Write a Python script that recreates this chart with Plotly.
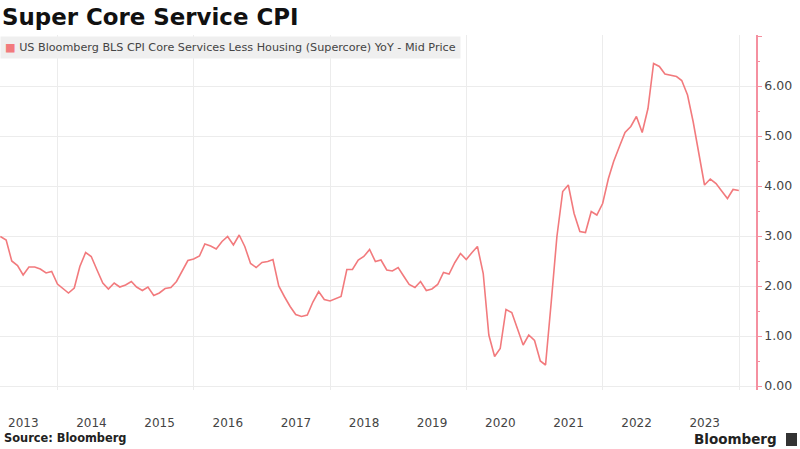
import pandas as pd
import plotly.graph_objects as go

# Monthly YoY values (%), Feb 2013 .. Dec 2023
values_2013 = [2.99, 2.92, 2.50, 2.41, 2.22, 2.38, 2.38, 2.34, 2.26, 2.29, 2.04]  # Feb-Dec
values_2014 = [1.94, 1.86, 1.96, 2.39, 2.67, 2.59, 2.32, 2.06, 1.94, 2.06, 1.98, 2.02]
values_2015 = [2.09, 1.98, 1.91, 1.98, 1.81, 1.86, 1.95, 1.97, 2.09, 2.29, 2.51, 2.54]
values_2016 = [2.60, 2.84, 2.80, 2.74, 2.89, 2.99, 2.82, 3.02, 2.79, 2.45, 2.37, 2.47]
values_2017 = [2.49, 2.53, 2.00, 1.79, 1.59, 1.43, 1.39, 1.42, 1.68, 1.89, 1.73, 1.70]
values_2018 = [1.75, 1.79, 2.33, 2.33, 2.52, 2.59, 2.73, 2.49, 2.52, 2.32, 2.30, 2.37]
values_2019 = [2.19, 2.03, 1.97, 2.09, 1.91, 1.94, 2.03, 2.27, 2.24, 2.47, 2.65, 2.53]
values_2020 = [2.67, 2.79, 2.25, 1.02, 0.59, 0.75, 1.53, 1.47, 1.15, 0.82, 1.02, 0.91]
values_2021 = [0.50, 0.42, 1.70, 2.99, 3.89, 4.02, 3.45, 3.09, 3.07, 3.49, 3.42, 3.65]
values_2022 = [4.15, 4.49, 4.79, 5.07, 5.19, 5.39, 5.07, 5.55, 6.45, 6.39, 6.24, 6.22]
values_2023 = [6.19, 6.11, 5.82, 5.29, 4.62, 4.02, 4.14, 4.05, 3.90, 3.75, 3.93, 3.91]

values = (values_2013 + values_2014 + values_2015 + values_2016 + values_2017 + values_2018
          + values_2019 + values_2020 + values_2021 + values_2022 + values_2023)
dates = pd.date_range("2013-02-28", periods=len(values), freq="ME")

years = list(range(2013, 2024))
tick_labels = [str(y) for y in years]
tick_positions = [f"{y}-07-01" for y in years]

y_ticks = [0, 1, 2, 3, 4, 5, 6, 7]
y_labels = ["0.00", "1.00", "2.00", "3.00", "4.00", "5.00", "6.00", ""]

series_name = "US Bloomberg BLS CPI Core Services Less Housing (Supercore) YoY - Mid Price"

LINE = "#f27a7d"
AXIS = "#f590a0"
GRID = "#ececec"
FONT = "DejaVu Sans"

fig = go.Figure()
fig.add_trace(go.Scatter(
    x=dates, y=values, mode="lines",
    line=dict(color=LINE, width=1.6),
    name=series_name, showlegend=False, hoverinfo="skip",
))

fig.update_layout(
    width=800, height=449,
    margin=dict(l=0, r=44, t=35, b=59),
    paper_bgcolor="white", plot_bgcolor="white",
    font=dict(family=FONT, color="#444"),
    title=dict(
        text="<b>Super Core Service CPI</b>",
        x=2 / 800, xanchor="left", xref="container",
        y=1 - 17 / 449, yanchor="middle", yref="container",
        font=dict(family=FONT, size=22.9, color="#111"),
    ),
    xaxis=dict(
        type="date",
        range=["2013-02-26", "2024-04-01"],
        tickvals=tick_positions, ticktext=tick_labels,
        showgrid=False, zeroline=False, showline=False, ticks="",
        tickfont=dict(family=FONT, size=12, color="#444"),
        ticklabelstandoff=24,
        minor=dict(tick0="2014-01-01", dtick="M24", showgrid=True,
                   gridcolor=GRID, gridwidth=1, ticks=""),
    ),
    yaxis=dict(
        side="right", range=[-0.08, 7.02],
        tickvals=y_ticks, ticktext=y_labels,
        showgrid=True, gridcolor=GRID, gridwidth=1,
        zeroline=False,
        showline=True, linecolor=AXIS, linewidth=1.5,
        ticks="outside", ticklen=4, tickcolor=AXIS, tickwidth=1,
        tickfont=dict(family=FONT, size=12.5, color="#444"),
        minor=dict(dtick=0.5, tick0=0, ticks="outside", ticklen=2,
                   tickcolor=AXIS, showgrid=False),
    ),
    annotations=[
        dict(
            text=f"<span style='color:{LINE}'>■</span> {series_name}",
            xref="paper", yref="paper", x=0.0, y=(390 - 48) / 355,
            xanchor="left", yanchor="middle", showarrow=False,
            bgcolor="#efefef", borderpad=4,
            font=dict(family=FONT, size=11.2, color="#444"),
        ),
        dict(
            text="<b>Source: Bloomberg</b>",
            xref="paper", yref="paper", x=2 / 756, y=(390 - 438) / 355,
            xanchor="left", yanchor="middle", showarrow=False,
            font=dict(family=FONT, size=11.4, color="#222"),
        ),
        dict(
            text="<b>Bloomberg</b>",
            xref="paper", yref="paper", x=779 / 756, y=(390 - 439) / 355,
            xanchor="right", yanchor="middle", showarrow=False,
            font=dict(family=FONT, size=13.5, color="#222"),
        ),
    ],
    shapes=[
        dict(type="rect", xref="paper", yref="paper",
             x0=786 / 756, x1=797 / 756, y0=(390 - 446) / 355, y1=(390 - 433) / 355,
             fillcolor="#333", line=dict(width=0)),
    ],
)

fig.write_html("out.html", config={"displayModeBar": False},
               post_script="document.body.style.margin='0';")
